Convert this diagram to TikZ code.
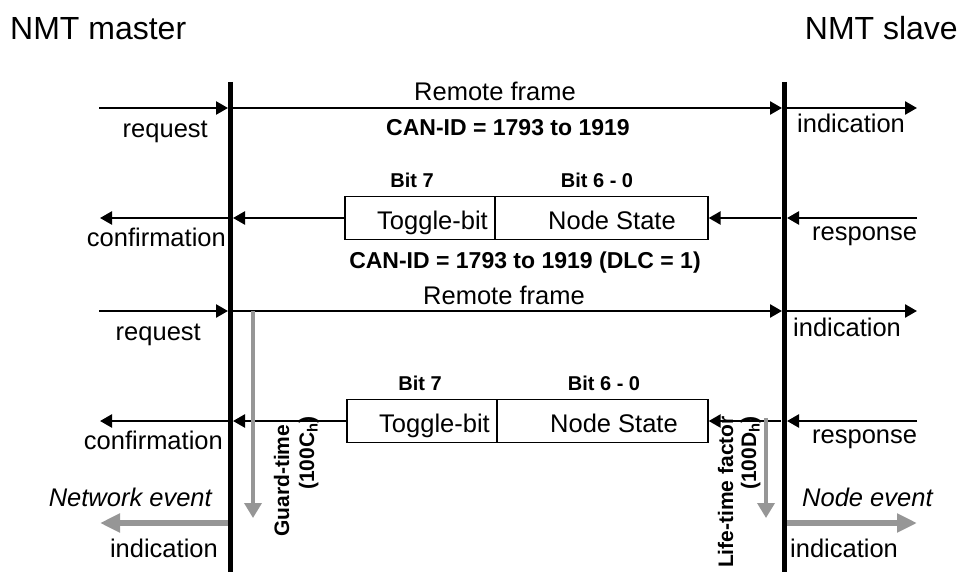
\documentclass[tikz,border=0pt]{standalone}
\usepackage{fontspec}
\setmainfont{Liberation Sans}
\usetikzlibrary{arrows.meta}
\newcommand\fsz[1]{\fontsize{#1}{#1}\selectfont}
\definecolor{agray}{RGB}{150,150,150}
\begin{document}
\begin{tikzpicture}[x=1pt,y=-1pt,
  title/.style={font=\fsz{32}, inner sep=0pt},
  lbl/.style={font=\fsz{25.5}, inner sep=0pt},
  ital/.style={font=\fsz{25.5}\itshape, inner sep=0pt},
  bld/.style={font=\fsz{23}\bfseries, inner sep=0pt},
  bitl/.style={font=\fsz{20}\bfseries, inner sep=0pt},
  rot/.style={font=\fsz{21}\bfseries, rotate=90, inner sep=0pt},
  msg/.style={line width=2.5pt, -{Triangle[length=12pt,width=13pt]}},
  lifeline/.style={line width=5pt},
  cell/.style={draw, line width=1.3pt, inner sep=0pt},
  gthick/.style={agray, line width=6pt, -{Triangle[length=20pt,width=18pt]}},
  gthin/.style={agray, line width=3.5pt, -{Triangle[length=15pt,width=17pt]}}]
\useasboundingbox (0,0) rectangle (968,572);
\clip (0,0) rectangle (968,572);
% titles
\node[title, anchor=base west] (master) at (10,40) {NMT master};
\node[title, anchor=base east] (slave) at (958,40) {NMT slave};
% lifelines
\coordinate (Lt) at (230,82); \coordinate (Lb) at (230,572);
\coordinate (Rt) at (784,82); \coordinate (Rb) at (784,572);
\draw[lifeline] (Lt) -- (Lb);
\draw[lifeline] (Rt) -- (Rb);
% ---------- row 1
\coordinate (a1) at (99,108); \coordinate (a2) at (228,108);
\coordinate (a3) at (232,108); \coordinate (a4) at (782,108);
\coordinate (a5) at (786,108); \coordinate (a6) at (917,108);
\draw[msg] (a1) -- (a2);
\draw[msg] (a3) -- (a4);
\draw[msg] (a5) -- (a6);
\node[lbl, anchor=base] (rf1) at (495,101) {Remote frame};
\node[bld, anchor=base] (id1) at (508,136) {CAN-ID = 1793 to 1919};
\node[lbl, anchor=base east] (req1) at (208,138) {request};
\node[lbl, anchor=base west] (ind1) at (797,133) {indication};
% ---------- row 2
\node[bitl, anchor=base] (b71) at (412,187) {Bit 7};
\node[bitl, anchor=base] (b61) at (597,187) {Bit 6 - 0};
\node[cell, minimum width=150, minimum height=43] (c11) at (420,218) {};
\node[cell, minimum width=213, minimum height=43] (c12) at (601.5,218) {};
\node[lbl, anchor=base west] (tb1) at (377,229) {Toggle-bit};
\node[lbl, anchor=base west] (ns1) at (548,229) {Node State};
\node[bld, anchor=base] (id2) at (525,268) {CAN-ID = 1793 to 1919 (DLC = 1)};
\node[lbl, anchor=base east] (conf1) at (226,246) {confirmation};
\node[lbl, anchor=base west] (resp1) at (812,240) {response};
\coordinate (d1) at (917,218); \coordinate (d2) at (787,218);
\coordinate (d3) at (781,218); \coordinate (d4) at (233,218);
\coordinate (d5) at (228,218); \coordinate (d6) at (100,218);
\draw[msg] (d1) -- (d2);
\draw[msg] (d3) -- (c12.east);
\draw[msg] (c11.west) -- (d4);
\draw[msg] (d5) -- (d6);
% ---------- row 3
\coordinate (e1) at (99,311); \coordinate (e2) at (228,311);
\coordinate (e3) at (232,311); \coordinate (e4) at (782,311);
\coordinate (e5) at (786,311); \coordinate (e6) at (917,311);
\draw[msg] (e1) -- (e2);
\draw[msg] (e3) -- (e4);
\draw[msg] (e5) -- (e6);
\node[lbl, anchor=base] (rf2) at (504,304) {Remote frame};
\node[lbl, anchor=base east] (req2) at (201,340) {request};
\node[lbl, anchor=base west] (ind2) at (793,336) {indication};
% ---------- row 4
\node[bitl, anchor=base] (b72) at (420,390) {Bit 7};
\node[bitl, anchor=base] (b62) at (604,390) {Bit 6 - 0};
\node[cell, minimum width=150, minimum height=43] (c21) at (422,421) {};
\node[cell, minimum width=211, minimum height=43] (c22) at (602.5,421) {};
\node[lbl, anchor=base west] (tb2) at (379,432) {Toggle-bit};
\node[lbl, anchor=base west] (ns2) at (550,432) {Node State};
\node[lbl, anchor=base east] (conf2) at (223,449) {confirmation};
\node[lbl, anchor=base west] (resp2) at (812,443) {response};
\coordinate (f1) at (917,421); \coordinate (f2) at (787,421);
\coordinate (f3) at (781,421); \coordinate (f4) at (233,421);
\coordinate (f5) at (228,421); \coordinate (f6) at (100,421);
\draw[msg] (f1) -- (f2);
\draw[msg] (f3) -- (c22.east);
\draw[msg] (c21.west) -- (f4);
\draw[msg] (f5) -- (f6);
% ---------- timers
\coordinate (g1) at (253,311); \coordinate (g2) at (253,518);
\coordinate (h1) at (766,418); \coordinate (h2) at (766,518);
\draw[gthin] (g1) -- (g2);
\draw[gthin] (h1) -- (h2);
\node[rot, anchor=base west] (gt) at (289,537) {Guard-time};
\node[rot, anchor=base west] (gtv) at (314,490) {(100C\textsubscript{h})};
\node[rot, anchor=base east] (lt) at (733,416) {Life-time factor};
\node[rot, anchor=base west] (ltv) at (756,490) {(100D\textsubscript{h})};
% ---------- events
\node[ital, anchor=base east] (ne) at (212,506) {Network event};
\node[ital, anchor=base west] (nde) at (802,506) {Node event};
\coordinate (k1) at (228,523); \coordinate (k2) at (100,523);
\coordinate (k3) at (787,523); \coordinate (k4) at (917,523);
\draw[gthick] (k1) -- (k2);
\draw[gthick] (k3) -- (k4);
\node[lbl, anchor=base east] (ind3) at (218,557) {indication};
\node[lbl, anchor=base west] (ind4) at (790,557) {indication};
\end{tikzpicture}
\end{document}
